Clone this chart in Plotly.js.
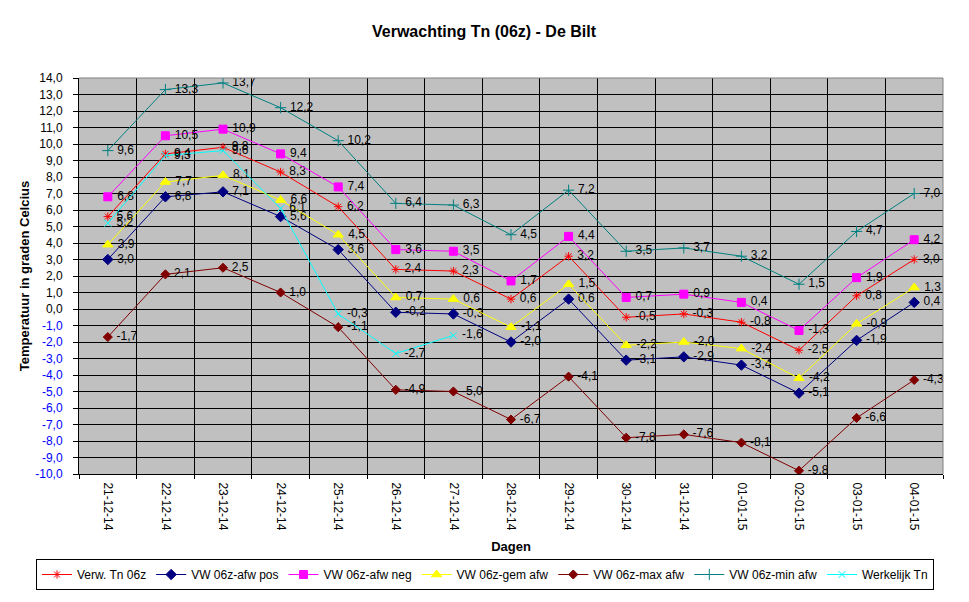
<!DOCTYPE html>
<html>
<head>
<meta charset="utf-8">
<script src="https://cdn.plot.ly/plotly-3.0.1.min.js"></script>
<style>
  body { margin: 0; background: #fff; }
  #chart { width: 969px; height: 602px; }
</style>
</head>
<body>
<div id="chart"></div>
<script>
var dagen = ['21-12-14','22-12-14','23-12-14','24-12-14','25-12-14','26-12-14','27-12-14','28-12-14',
             '29-12-14','30-12-14','31-12-14','01-01-15','02-01-15','03-01-15','04-01-15'];

var verwTn   = [5.6, 9.4, 9.8, 8.3, 6.2, 2.4, 2.3, 0.6, 3.2, -0.5, -0.3, -0.8, -2.5, 0.8, 3.0];
var afwPos   = [3.0, 6.8, 7.1, 5.6, 3.6, -0.2, -0.3, -2.0, 0.6, -3.1, -2.9, -3.4, -5.1, -1.9, 0.4];
var afwNeg   = [6.8, 10.5, 10.9, 9.4, 7.4, 3.6, 3.5, 1.7, 4.4, 0.7, 0.9, 0.4, -1.3, 1.9, 4.2];
var gemAfw   = [3.9, 7.7, 8.1, 6.6, 4.5, 0.7, 0.6, -1.1, 1.5, -2.2, -2.0, -2.4, -4.2, -0.9, 1.3];
var maxAfw   = [-1.7, 2.1, 2.5, 1.0, -1.1, -4.9, -5.0, -6.7, -4.1, -7.8, -7.6, -8.1, -9.8, -6.6, -4.3];
var minAfw   = [9.6, 13.3, 13.7, 12.2, 10.2, 6.4, 6.3, 4.5, 7.2, 3.5, 3.7, 3.2, 1.5, 4.7, 7.0];
var werkTn   = [5.2, 9.3, 9.6, 6.1, -0.3, -2.7, -1.6, null, null, null, null, null, null, null, null];

var yTickVals = [14, 13, 12, 11, 10, 9, 8, 7, 6, 5, 4, 3, 2, 1, 0, -1, -2, -3, -4, -5, -6, -7, -8, -9, -10];

function komma(v) {
  return v === null ? '' : v.toFixed(1).replace('.', ',');
}

var yTickText = yTickVals.map(function (v) {
  var t = komma(v);
  return v < 0 ? '<span style="color:#0000ff">' + t + '</span>' : t;
});

function serie(naam, y, kleur, symbool, grootte) {
  return {
    x: dagen,
    y: y,
    name: naam,
    type: 'scatter',
    mode: 'lines+markers+text',
    // kleine spatie ervoor, zoals Excel de labels iets verder rechts zet
    text: y.map(function (v) { return v === null ? '' : '\u00a0' + komma(v); }),
    textposition: 'middle right',
    textfont: {family: 'Liberation Sans, Arial, sans-serif', size: 12, color: '#000'},
    line: {color: kleur, width: 1},
    marker: {symbol: symbool, size: grootte, color: kleur, line: {color: kleur, width: 1}},
    connectgaps: false,
    hoverinfo: 'none'
  };
}

var data = [
  serie('Verw. Tn 06z', verwTn, '#ff0000', 'asterisk-open', 7),
  serie('VW 06z-afw pos', afwPos, '#000080', 'diamond', 8),
  serie('VW 06z-afw neg', afwNeg, '#ff00ff', 'square', 8),
  serie('VW 06z-gem afw', gemAfw, '#ffff00', 'triangle-up', 9),
  serie('VW 06z-max afw', maxAfw, '#800000', 'diamond', 7),
  serie('VW 06z-min afw', minAfw, '#008080', 'cross-thin-open', 8),
  serie('Werkelijk Tn', werkTn, '#00ffff', 'x-thin-open', 7)
];

var layout = {
  width: 969,
  height: 602,
  paper_bgcolor: '#ffffff',
  plot_bgcolor: '#c0c0c0',
  font: {family: 'Liberation Sans, Arial, sans-serif', size: 12, color: '#000'},
  margin: {l: 79, r: 26, t: 78, b: 128},
  showlegend: true,
  title: {
    text: '<b>Verwachting Tn (06z) - De Bilt</b>',
    font: {size: 16, color: '#000'},
    x: 484 / 969, xanchor: 'center',
    y: 1 - 31 / 602, yanchor: 'middle'
  },
  xaxis: {
    type: 'category',
    range: [-0.5, 14.5],
    tickson: 'boundaries',
    ticks: 'outside',
    ticklen: 4,
    tickcolor: '#000',
    tickangle: 90,
    tickfont: {size: 12},
    ticklabelstandoff: 5,
    showgrid: true,
    gridcolor: '#000',
    gridwidth: 1,
    showline: true,
    linecolor: '#000',
    linewidth: 1,
    zeroline: false,
    title: {text: '<b>Dagen</b>', font: {size: 13}, standoff: 12}
  },
  yaxis: {
    range: [-10, 14],
    tickvals: yTickVals,
    ticktext: yTickText,
    ticks: 'outside',
    ticklen: 5,
    tickcolor: '#000',
    tickfont: {size: 12},
    ticklabelstandoff: 8,
    showgrid: true,
    gridcolor: '#000',
    gridwidth: 1,
    showline: true,
    linecolor: '#000',
    linewidth: 1,
    zeroline: false,
    title: {text: '<b>Temperatuur in graden Celcius</b>', font: {size: 13}, standoff: 2}
  },
  shapes: [
    {type: 'line', xref: 'paper', yref: 'paper', x0: 0, x1: 1, y0: 1, y1: 1,
     line: {color: '#808080', width: 1}},
    {type: 'line', xref: 'paper', yref: 'paper', x0: 1, x1: 1, y0: 0, y1: 1,
     line: {color: '#808080', width: 1}}
  ],
  legend: {
    orientation: 'h',
    x: (36 - 79) / 864,
    xanchor: 'left',
    y: (474 - 590) / 396,
    yanchor: 'bottom',
    bgcolor: '#ffffff',
    bordercolor: '#000',
    borderwidth: 1,
    font: {size: 12},
    itemwidth: 30,
    tracegroupgap: 0
  }
};

Plotly.newPlot('chart', data, layout, {displayModeBar: false, staticPlot: true});
</script>
</body>
</html>
